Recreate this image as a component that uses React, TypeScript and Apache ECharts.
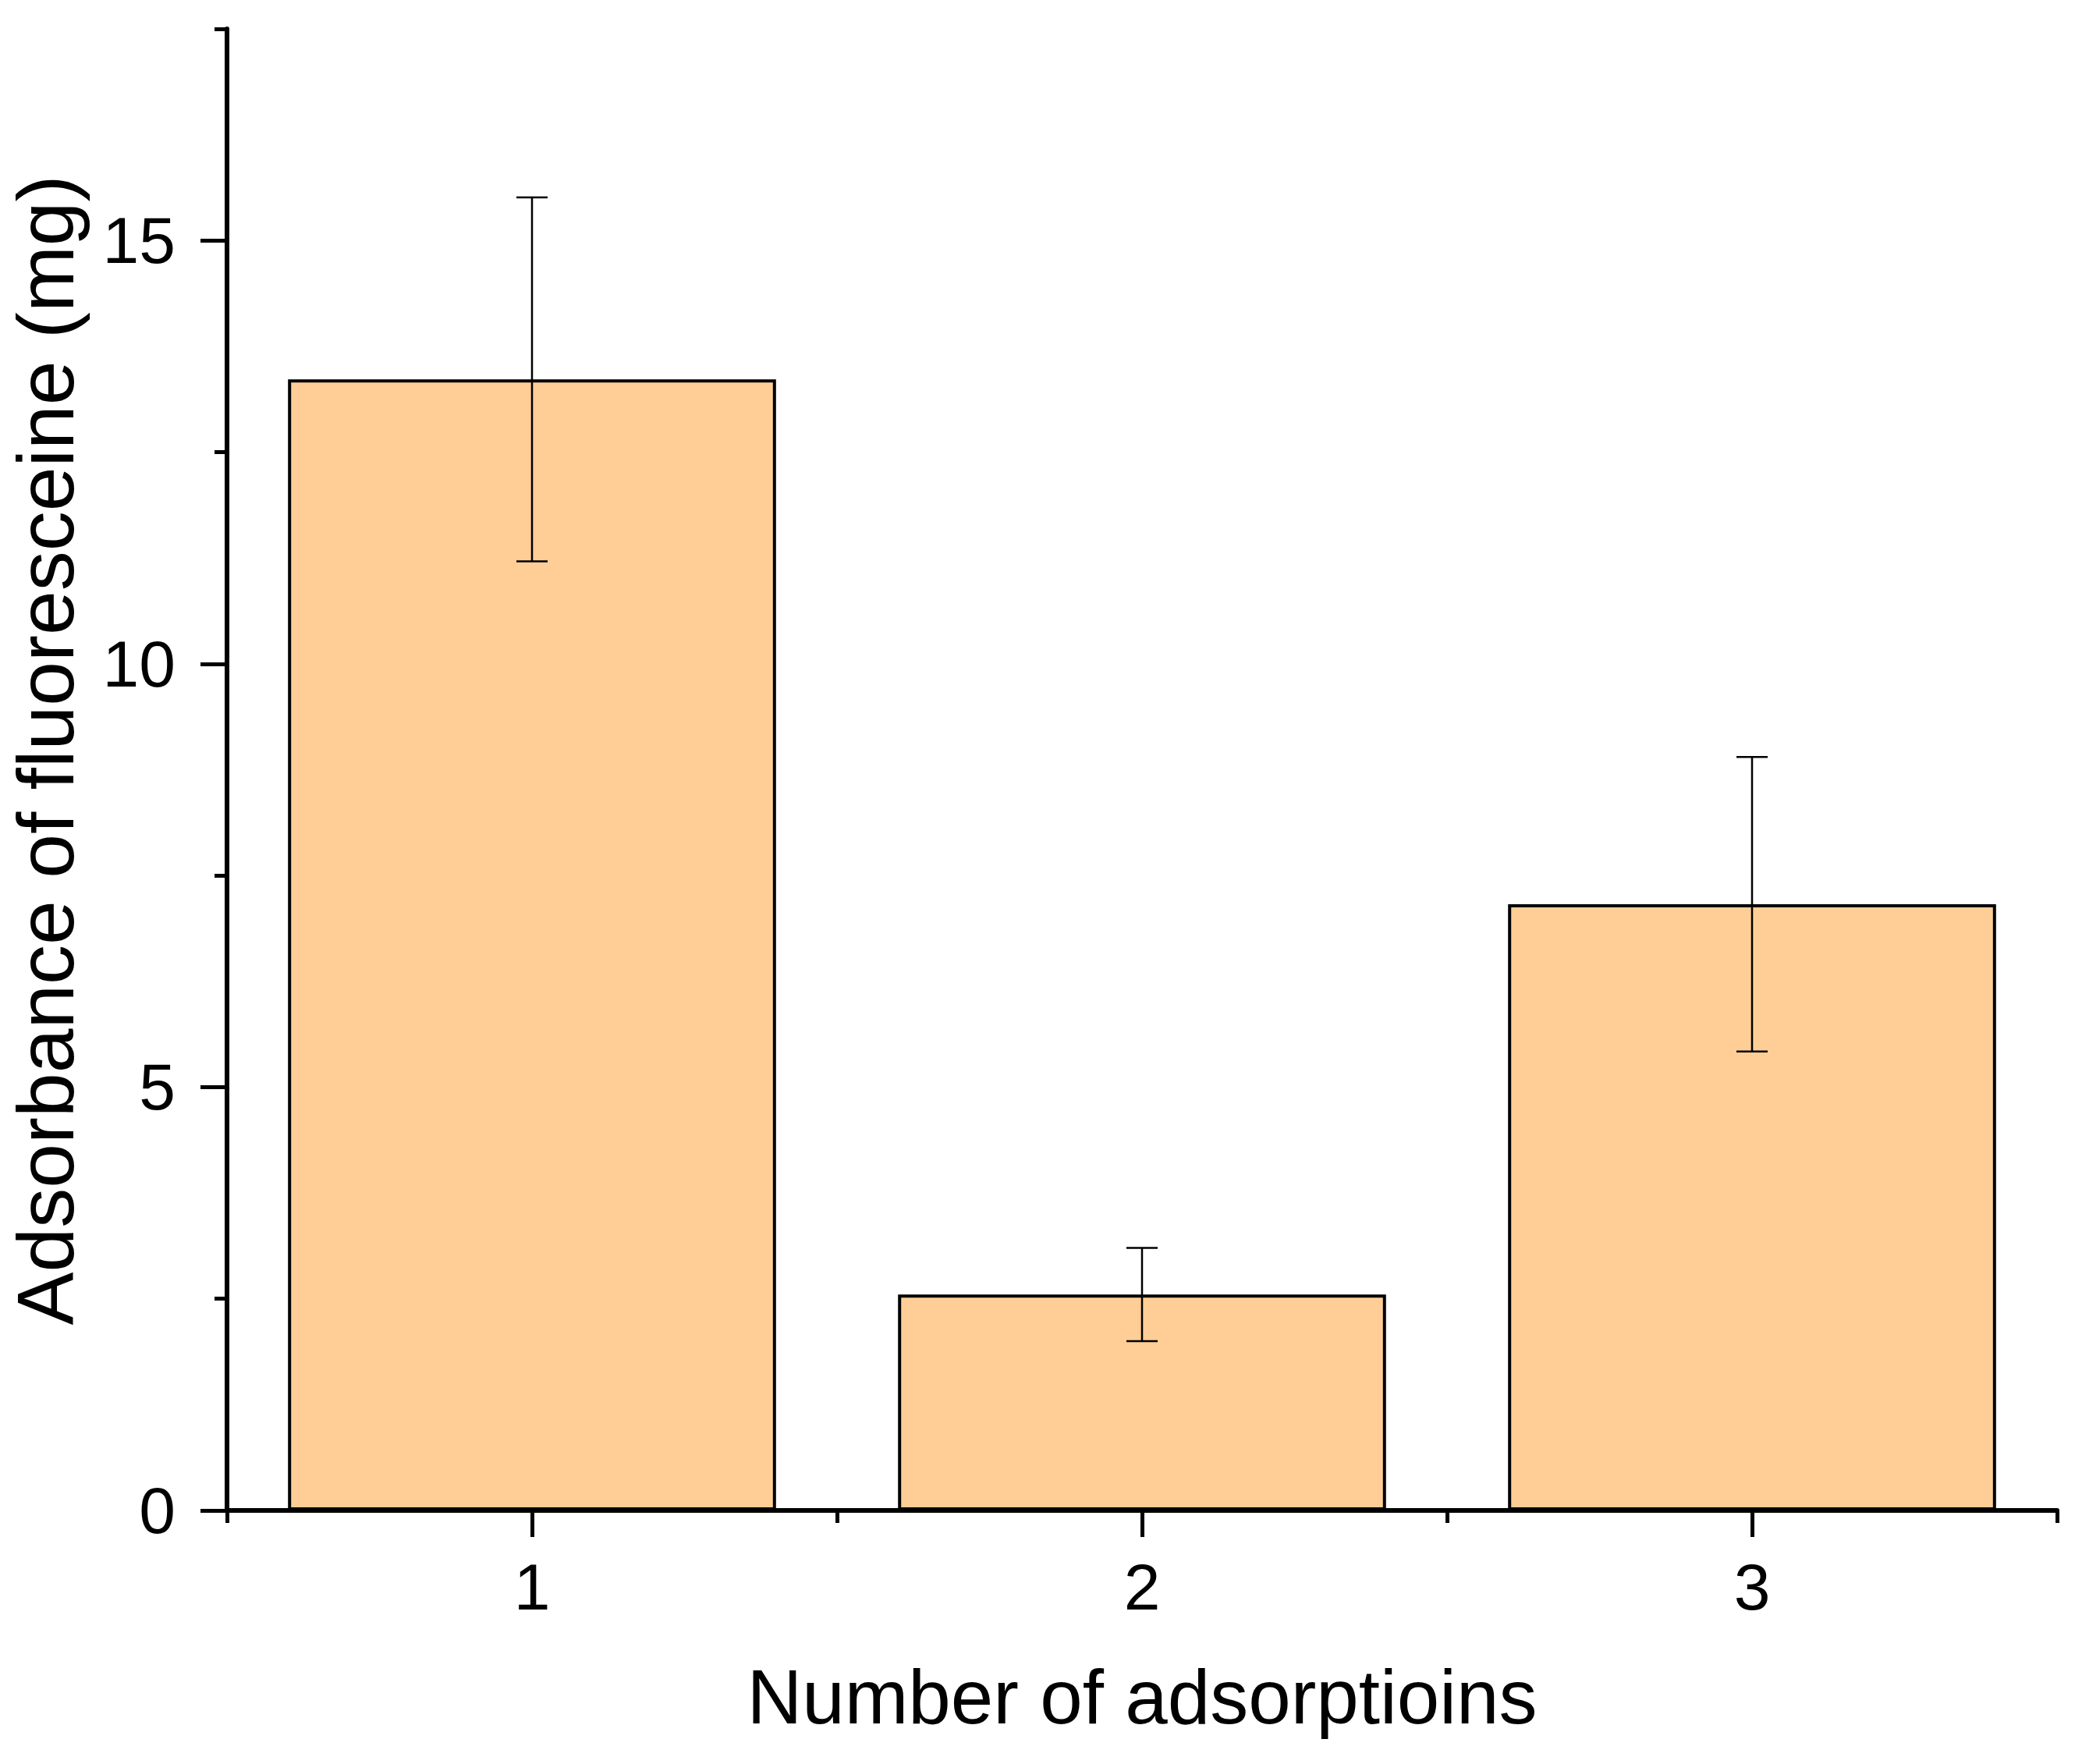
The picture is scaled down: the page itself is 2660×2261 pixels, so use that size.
import React, { useEffect, useRef } from "react";
import * as echarts from "echarts";

const categories = ["1", "2", "3"];
const means = [13.36, 2.55, 7.16];
const errors = [2.15, 0.55, 1.74];
const yMajorTicks = [0, 5, 10, 15];
const yMinorTicks = [2.5, 7.5, 12.5, 17.5];

const FONT = "Liberation Sans, Arial, sans-serif";

export default function App() {
  const ref = useRef<HTMLDivElement>(null);
  useEffect(() => {
    if (!ref.current) return;
    const chart = echarts.init(ref.current, null, { renderer: "svg" });
    const errData = means.map((m, i) => [i, m - errors[i], m + errors[i]]);
    const axisLine = { show: true, onZero: false, lineStyle: { color: "#000", width: 6 } };
    chart.setOption({
      animation: false,
      backgroundColor: "#fff",
      grid: { left: 290, right: 23, top: 37, bottom: 325 },
      xAxis: [
        {
          type: "category",
          data: categories,
          boundaryGap: true,
          position: "bottom",
          axisLine,
          axisTick: { show: true, alignWithLabel: true, length: 34, lineStyle: { color: "#000", width: 5 } },
          axisLabel: { color: "#000", fontSize: 84, fontFamily: FONT, margin: 56 },
          name: "Number of adsorptioins",
          nameLocation: "middle",
          nameGap: 190,
          nameTextStyle: { color: "#000", fontSize: 98, fontFamily: FONT },
          splitLine: { show: false },
        },
        {
          type: "category",
          data: categories,
          boundaryGap: true,
          position: "bottom",
          axisLine: { show: false },
          axisTick: { show: true, length: 16, lineStyle: { color: "#000", width: 5 } },
          axisLabel: { show: false },
          splitLine: { show: false },
        },
      ],
      yAxis: [
        {
          type: "value",
          min: 0,
          max: 17.5,
          position: "left",
          axisLine,
          axisTick: { show: true, length: 34, customValues: yMajorTicks, lineStyle: { color: "#000", width: 5 } },
          axisLabel: { color: "#000", fontSize: 84, fontFamily: FONT, margin: 66, customValues: yMajorTicks },
          splitLine: { show: false },
          name: "Adsorbance of fluoresceine (mg)",
          nameLocation: "middle",
          nameGap: 181,
          nameRotate: 90,
          nameTextStyle: { color: "#000", fontSize: 102, fontFamily: FONT, padding: [0, 0, 0, 50] },
        },
        {
          type: "value",
          min: 0,
          max: 17.5,
          position: "left",
          axisLine: { show: false },
          axisTick: { show: true, length: 16, customValues: yMinorTicks, lineStyle: { color: "#000", width: 5 } },
          axisLabel: { show: false },
          splitLine: { show: false },
        },
      ],
      series: [
        {
          type: "bar",
          xAxisIndex: 0,
          yAxisIndex: 0,
          data: means,
          barWidth: "80%",
          itemStyle: { color: "#FECE96", borderColor: "#000", borderWidth: 4 },
        },
        {
          type: "custom",
          xAxisIndex: 0,
          yAxisIndex: 0,
          data: errData,
          z: 10,
          renderItem: (params: any, api: any) => {
            const x = api.value(0);
            const lo = api.coord([x, api.value(1)]);
            const hi = api.coord([x, api.value(2)]);
            const hw = 20;
            const style = { stroke: "#000", lineWidth: 2.5 };
            return {
              type: "group",
              children: [
                { type: "line", shape: { x1: hi[0], y1: hi[1], x2: lo[0], y2: lo[1] }, style },
                { type: "line", shape: { x1: hi[0] - hw, y1: hi[1], x2: hi[0] + hw, y2: hi[1] }, style },
                { type: "line", shape: { x1: lo[0] - hw, y1: lo[1], x2: lo[0] + hw, y2: lo[1] }, style },
              ],
            };
          },
        },
      ],
    });
    return () => chart.dispose();
  }, []);
  return (
    <div
      ref={ref}
      style={{ position: "absolute", left: 0, top: 0, width: 2660, height: 2261, background: "#fff" }}
    />
  );
}
